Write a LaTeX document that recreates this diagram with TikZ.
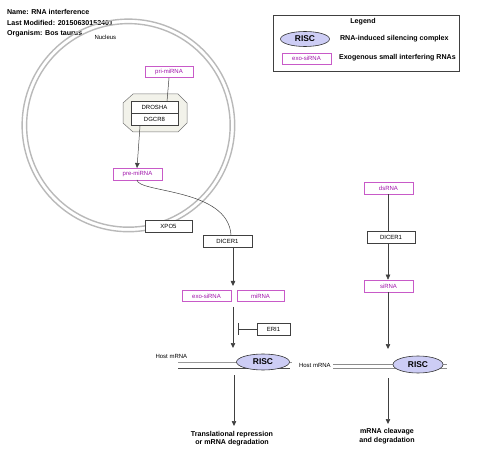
\documentclass[tikz,border=0pt]{standalone}
\usepackage{fontspec}
\setmainfont{Liberation Sans}
\usetikzlibrary{arrows.meta,shapes.geometric}
\definecolor{magbox}{RGB}{200,90,200}
\definecolor{magtext}{RGB}{160,20,170}
\definecolor{lav}{RGB}{205,205,245}
\definecolor{ring}{RGB}{185,185,185}
\definecolor{octfill}{RGB}{242,242,234}
\tikzset{
  smalltxt/.style={font=\fontsize{6}{7}\selectfont},
  boldtxt/.style={font=\bfseries\fontsize{7.1}{8.5}\selectfont},
  magnode/.style={draw=magbox, line width=0.6pt, fill=white, text=magtext, smalltxt, inner sep=0pt, minimum width=48pt, minimum height=11pt},
  genebox/.style={draw=black!75, line width=0.5pt, fill=white, smalltxt, inner sep=0pt, minimum width=48pt, minimum height=11.5pt},
  risc/.style={ellipse, draw=black!80, line width=0.6pt, fill=lav, inner sep=0pt, minimum width=52pt, minimum height=16pt, font=\bfseries\fontsize{8.4}{9}\selectfont},
  conn/.style={draw=black!75, line width=0.5pt},
  arr/.style={conn, -{Triangle[length=5pt,width=4.5pt]}},
  inhib/.style={conn, -{Bar[width=12pt]}},
  mline/.style={line width=0.6pt}
}
\begin{document}
\begin{tikzpicture}[x=1pt,y=-1pt]
\useasboundingbox (0,0) rectangle (480,468);
% title
\node[boldtxt, anchor=west] (t1) at (3.5,11.5) {Name: RNA interference};
\node[boldtxt, anchor=west] (t2) at (3.5,22.5) {Last Modified: 20150630152401};
\node[boldtxt, anchor=west] (t3) at (3.5,33.5) {Organism: Bos taurus};
% nucleus
\draw[ring, line width=1.4pt] (128.4,125.4) circle (106.3);
\draw[ring, line width=1.4pt] (128.4,125.4) circle (101.8);
\node[smalltxt, anchor=west] (nuc) at (91,37.5) {Nucleus};
% legend
\node[draw=black!75, line width=0.5pt, minimum width=186pt, minimum height=56pt, inner sep=0pt] (legbox) at (366,43) {};
\node[boldtxt] (legt) at (363,21.5) {Legend};
\node[risc, minimum width=49pt, minimum height=15pt] (legrisc) at (305,39) {RISC};
\node[boldtxt, anchor=west] (legrisct) at (336.5,39) {RNA-induced silencing complex};
\node[magnode, minimum width=49pt] (legexo) at (306.5,58.5) {exo-siRNA};
\node[boldtxt, anchor=west] (legexot) at (335.5,57.5) {Exogenous small interfering RNAs};
% octagon complex
\draw[draw=black!55, fill=octfill, line width=0.5pt] (133,94) -- (178,94) -- (187,103) -- (187,123) -- (178,132) -- (133,132) -- (123,123) -- (123,103) -- cycle;
\node[genebox, minimum width=47pt, minimum height=12pt] (drosha) at (154.5,107.5) {DROSHA};
\node[genebox, minimum width=47pt, minimum height=12.5pt] (dgcr8) at (154.5,119.5) {DGCR8};
% nuclear nodes
\node[magnode] (pri) at (169,72) {pri-miRNA};
\node[magnode, minimum width=49pt, minimum height=12pt] (pre) at (137.5,174) {pre-miRNA};
\node[genebox, minimum width=47pt] (xpo5) at (168.5,226.5) {XPO5};
\node[genebox, minimum width=49pt, minimum height=12pt] (dicerA) at (227.5,241) {DICER1};
\node[magnode, minimum width=49pt, minimum height=10.5pt] (exo) at (206.5,296) {exo-siRNA};
\node[magnode, minimum width=47pt, minimum height=10.5pt] (mirna) at (260.5,296) {miRNA};
\node[genebox, minimum width=33pt, minimum height=12pt] (eri1) at (273.5,329) {ERI1};
% right column
\node[magnode, minimum width=49pt, minimum height=12pt] (dsrna) at (388.5,188) {dsRNA};
\node[genebox, minimum width=48pt] (dicerB) at (391,237.5) {DICER1};
\node[magnode, minimum width=49pt, minimum height=12pt] (sirna) at (388.5,286) {siRNA};
% connectors nucleus
\coordinate (priB) at (169,78);
\coordinate (droT) at (167,101.5);
\draw[conn] (priB) -- (droT);
\coordinate (dgB) at (140,126);
\coordinate (preT) at (137,168);
\draw[arr] (dgB) -- (preT);
\coordinate (preB) at (137,180);
\coordinate (dicT) at (231,235);
\draw[conn] (preB) .. controls (138,193) and (228,188) .. (dicT);
% left pathway
\coordinate (dicB) at (233,247);
\coordinate (jA) at (233,286);
\draw[arr] (dicB) -- (jA);
\coordinate (jB) at (233,307);
\coordinate (jC) at (233,348);
\draw[arr] (jB) -- (jC);
\coordinate (barpt) at (238,329);
\draw[conn] (eri1.west) -- (barpt);
\draw[conn] (238,323) -- (238,335);
% host mRNA left
\coordinate (hL1) at (178,362.5);
\coordinate (hR1) at (292,362.5);
\coordinate (hL2) at (178,368);
\coordinate (hR2) at (290,368);
\draw[mline, draw=black!40] (hL1) -- (hR1);
\draw[mline, draw=black!70] (hL2) -- (hR2);
\node[smalltxt, anchor=west] (hostA) at (152,356.5) {Host mRNA};
\node[risc, minimum width=53pt] (riscA) at (263,362) {RISC};
\coordinate (rA) at (234,375);
\coordinate (rAe) at (234,426);
\draw[arr] (rA) -- (rAe);
\node[boldtxt, align=center] (outA) at (232,438.5) {Translational repression\\or mRNA degradation};
% right pathway
\draw[conn] (dsrna.south -| 388,0) -- (dicerB.north -| 388,0);
\draw[arr] (dicerB.south -| 388,0) -- (sirna.north -| 388,0);
\coordinate (sB) at (388,292);
\coordinate (sE) at (388,349);
\draw[arr] (sB) -- (sE);
\coordinate (hL3) at (333,364);
\coordinate (hR3) at (447,364);
\coordinate (hL4) at (333,368.5);
\coordinate (hR4) at (447,368.5);
\draw[mline, draw=black!45] (hL3) -- (hR3);
\draw[mline, draw=black!45] (hL4) -- (hR4);
\node[smalltxt, anchor=west] (hostB) at (295.5,365.5) {Host mRNA};
\node[risc, minimum width=50pt, minimum height=17pt] (riscB) at (418,364.5) {RISC};
\coordinate (rB) at (388,378);
\coordinate (rBe) at (388,424);
\draw[arr] (rB) -- (rBe);
\node[boldtxt, align=center] (outB) at (387,436) {mRNA cleavage\\and degradation};
\end{tikzpicture}
\end{document}
